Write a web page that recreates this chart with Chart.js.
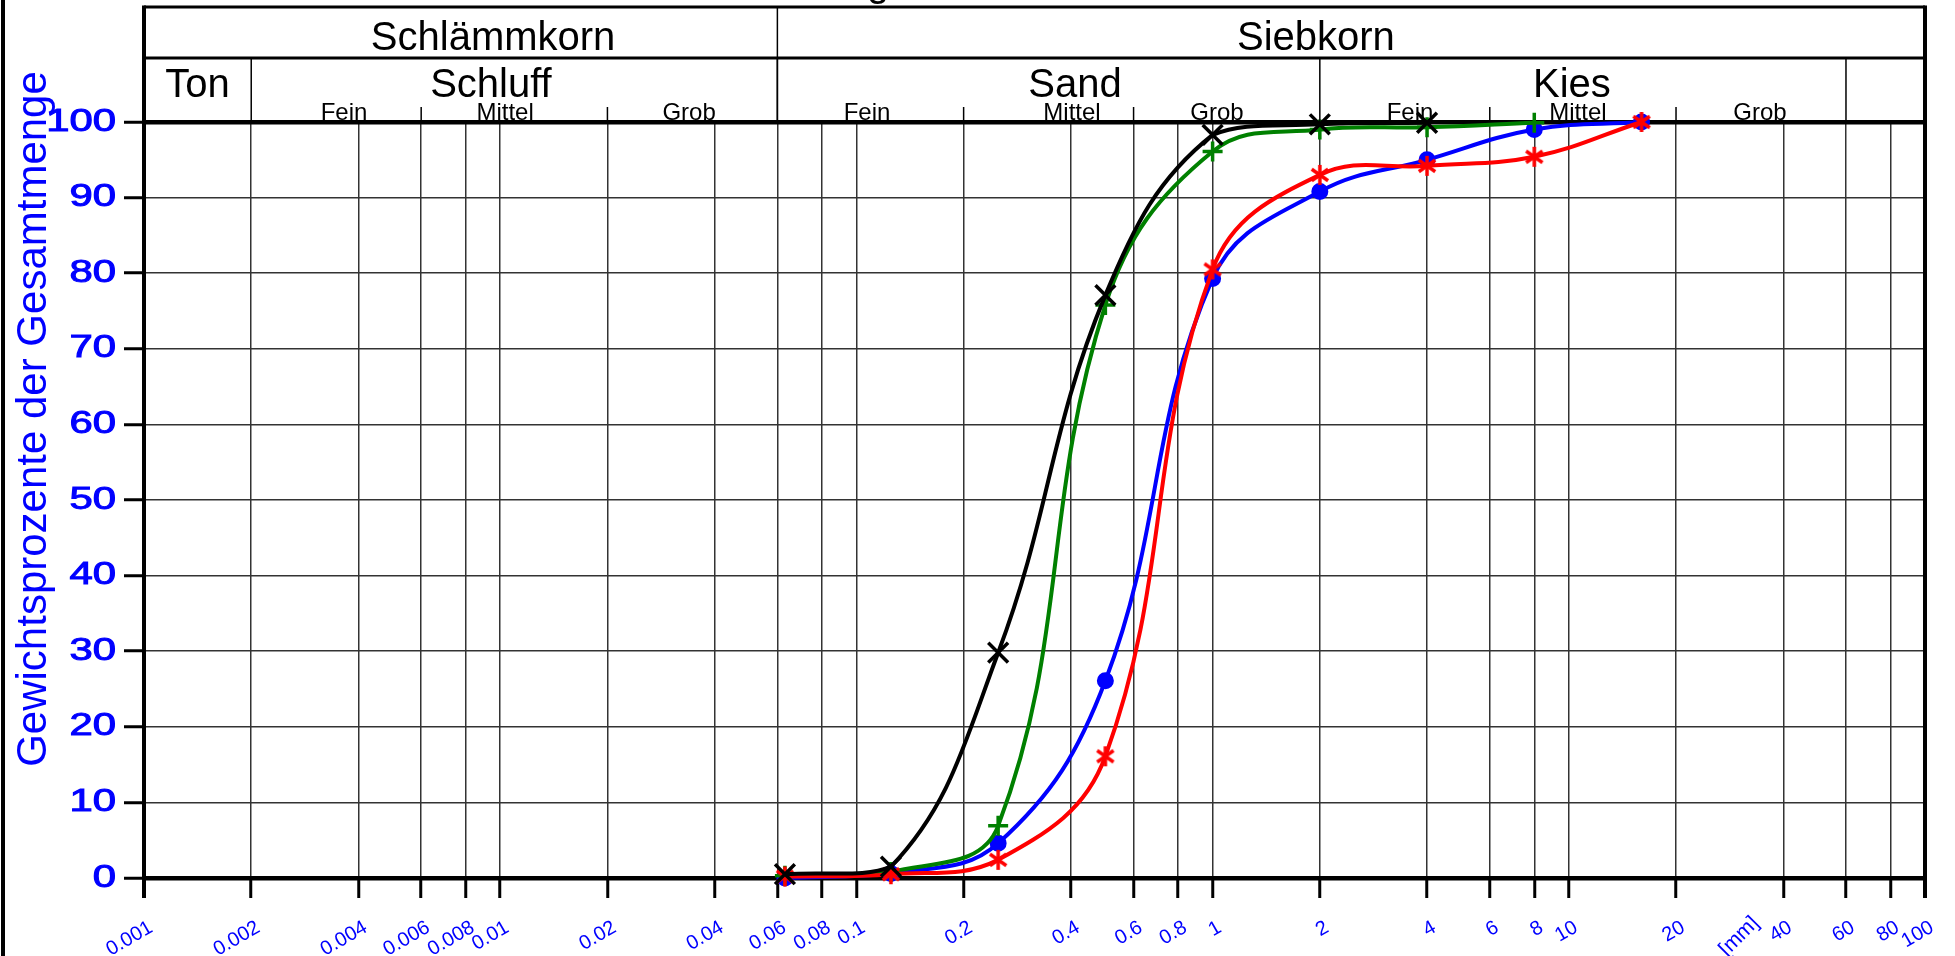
<!DOCTYPE html>
<html>
<head>
<meta charset="utf-8">
<title>Körnungslinie</title>
<script src="https://cdn.jsdelivr.net/npm/chart.js@4.4.1/dist/chart.umd.min.js"></script>
<style>
  html, body { margin: 0; padding: 0; background: #ffffff; overflow: hidden; }
  canvas { display: block; }
</style>
</head>
<body>
<canvas id="grading" width="1955" height="956"></canvas>
<script>
// Sieve openings (mm) and percent passing for each sample
const sieveSizes   = [0.063, 0.125, 0.25, 0.5, 1, 2, 4, 8, 16];
const passingBlue  = [0, 0.6, 4.6, 26.1, 79.3, 90.8, 95.0, 99.0, 100];
const passingRed   = [0.2, 0.5, 2.4, 16.1, 80.5, 93.0, 94.2, 95.4, 100];
const passingGreen = [0.3, 0.8, 6.9, 75.8, 96.1, 99.0, 99.3, 99.9];
const passingBlack = [0.5, 1.5, 29.8, 77.1, 98.3, 99.7, 99.9];

// Axis ticks
const xTickValues = [0.001, 0.002, 0.004, 0.006, 0.008, 0.01, 0.02, 0.04, 0.06, 0.08, 0.1,
                     0.2, 0.4, 0.6, 0.8, 1, 2, 4, 6, 8, 10, 20, 30, 40, 60, 80, 100];
const xTickLabels = ['0.001', '0.002', '0.004', '0.006', '0.008', '0.01', '0.02', '0.04', '0.06', '0.08', '0.1',
                     '0.2', '0.4', '0.6', '0.8', '1', '2', '4', '6', '8', '10', '20', '[mm]', '40', '60', '80', '100'];
const unitTickValue = 30;
const yTickValues = [0, 10, 20, 30, 40, 50, 60, 70, 80, 90, 100];
const yTickLabels = ['0', '10', '20', '30', '40', '50', '60', '70', '80', '90', '100'];
const yAxisTitle = 'Gewichtsprozente der Gesamtmenge';
const chartTitle = 'Körnungslinie';

// Soil fraction classification (DIN), boundaries in mm
const mainNames      = ['Schlämmkorn', 'Siebkorn'];
const mainBounds     = [0.06];
const fractionNames  = ['Ton', 'Schluff', 'Sand', 'Kies'];
const fractionBounds = [0.002, 0.06, 2, 60];
const subNames       = ['Fein', 'Mittel', 'Grob', 'Fein', 'Mittel', 'Grob', 'Fein', 'Mittel', 'Grob'];
const subBounds      = [0.006, 0.02, 0.2, 0.6, 6, 20];

// Where each header caption is centred (mm on the grain-size axis)
const mainLabelAt     = [0.00955, 1.95];
const fractionLabelAt = [0.001413, 0.00942, 0.411, 10.2];
const subLabelAt      = [0.003643, 0.01032, 0.0339, 0.1071, 0.403, 1.029, 3.583, 10.61, 34.4];

const FONT = '"Liberation Sans", Arial, Helvetica, sans-serif';
const AXIS_BLUE = '#0000ff';

function series(values) {
  return values.map((v, i) => ({ x: sieveSizes[i], y: v }));
}

// six-armed asterisk marker
function asteriskMarker(color, r, lw) {
  const size = Math.ceil(2 * r + lw + 2);
  const c = document.createElement('canvas');
  c.width = size; c.height = size;
  const g = c.getContext('2d');
  g.strokeStyle = color;
  g.lineWidth = lw;
  g.translate(size / 2, size / 2);
  [90, 35, 145].forEach(deg => {
    const a = deg * Math.PI / 180;
    g.beginPath();
    g.moveTo(-r * Math.cos(a), -r * Math.sin(a));
    g.lineTo(r * Math.cos(a), r * Math.sin(a));
    g.stroke();
  });
  return c;
}

function strokeLine(ctx, x1, y1, x2, y2, w) {
  ctx.lineWidth = w;
  ctx.beginPath();
  ctx.moveTo(x1, y1);
  ctx.lineTo(x2, y2);
  ctx.stroke();
}

// Header table, page border, axis labels and titles
const gradingFrame = {
  id: 'gradingFrame',
  afterDraw(chart) {
    const { ctx, chartArea: a } = chart;
    const xs = chart.scales.x, ys = chart.scales.y;
    const X = v => xs.getPixelForValue(v);
    const topY = 7, midY = 58, subTickTop = 107;
    const tickBottom = a.bottom + 20;

    ctx.save();
    ctx.strokeStyle = '#000';
    ctx.lineCap = 'butt';

    // page border on the left
    strokeLine(ctx, 3, 0, 3, chart.height, 4);

    // header box
    strokeLine(ctx, a.left, topY, a.right, topY, 3);
    strokeLine(ctx, a.left, midY, a.right, midY, 3);
    strokeLine(ctx, a.left, topY - 1.5, a.left, tickBottom, 4);
    strokeLine(ctx, a.right, topY - 1.5, a.right, tickBottom, 4);

    mainBounds.forEach(v => strokeLine(ctx, X(v), topY, X(v), a.top, 1.5));
    fractionBounds.forEach(v => strokeLine(ctx, X(v), midY, X(v), a.top, 1.5));
    subBounds.forEach(v => strokeLine(ctx, X(v), subTickTop, X(v), a.top, 1.5));

    // header captions
    ctx.fillStyle = '#000';
    ctx.textAlign = 'center';
    ctx.textBaseline = 'alphabetic';
    ctx.font = '40px ' + FONT;
    mainNames.forEach((t, i) => ctx.fillText(t, X(mainLabelAt[i]), 50));
    fractionNames.forEach((t, i) => ctx.fillText(t, X(fractionLabelAt[i]), 97));
    ctx.font = '24px ' + FONT;
    subNames.forEach((t, i) => ctx.fillText(t, X(subLabelAt[i]), 120));

    // chart title (runs off the top edge)
    ctx.font = '40px ' + FONT;
    ctx.textAlign = 'left';
    ctx.fillText(chartTitle, 738, -4);

    // y tick labels (wide, heavy digits)
    ctx.fillStyle = AXIS_BLUE;
    ctx.strokeStyle = AXIS_BLUE;
    ctx.lineWidth = 1;
    ctx.font = '31px ' + FONT;
    ctx.textBaseline = 'middle';
    yTickValues.forEach((v, i) => {
      ctx.save();
      ctx.translate(116, ys.getPixelForValue(v));
      ctx.scale(1.35, 1);
      ctx.textAlign = 'right';
      ctx.fillText(yTickLabels[i], 0, 0);
      ctx.strokeText(yTickLabels[i], 0, 0);
      ctx.restore();
    });

    // x tick labels, rotated
    ctx.textBaseline = 'alphabetic';
    ctx.textAlign = 'right';
    xTickValues.forEach((v, i) => {
      const px = X(v);
      ctx.save();
      if (v === unitTickValue) {
        ctx.font = '21px ' + FONT;
        ctx.translate(px + 21, a.bottom + 46);
        ctx.rotate(-Math.PI / 4);
      } else {
        ctx.font = '20px ' + FONT;
        ctx.translate(px + 10, a.bottom + 53);
        ctx.rotate(-Math.PI / 6);
      }
      ctx.fillText(xTickLabels[i], 0, 0);
      ctx.restore();
    });

    // y axis title
    ctx.save();
    ctx.font = '42px ' + FONT;
    ctx.textAlign = 'center';
    ctx.textBaseline = 'alphabetic';
    ctx.translate(46, 419);
    ctx.rotate(-Math.PI / 2);
    ctx.fillText(yAxisTitle, 0, 0);
    ctx.restore();

    ctx.restore();
  }
};

const lineDefaults = {
  borderWidth: 4,
  tension: 0.4,
  fill: false,
  clip: false,
  pointBorderWidth: 3.5
};

new Chart(document.getElementById('grading'), {
  type: 'line',
  data: {
    datasets: [
      Object.assign({}, lineDefaults, {
        label: 'Probe 4',
        data: series(passingBlack),
        borderColor: '#000000',
        pointStyle: 'crossRot',
        pointRadius: 14,
        pointBorderColor: '#000000',
        pointBackgroundColor: '#000000'
      }),
      Object.assign({}, lineDefaults, {
        label: 'Probe 2',
        data: series(passingRed),
        borderColor: '#ff0000',
        pointStyle: asteriskMarker('#ff0000', 10, 3.5),
        pointRadius: 10
      }),
      Object.assign({}, lineDefaults, {
        label: 'Probe 3',
        data: series(passingGreen),
        borderColor: '#008000',
        pointStyle: 'cross',
        pointRadius: 10,
        pointBorderColor: '#008000',
        pointBackgroundColor: '#008000'
      }),
      Object.assign({}, lineDefaults, {
        label: 'Probe 1',
        data: series(passingBlue),
        borderColor: '#0000ff',
        pointStyle: 'circle',
        pointRadius: 7.5,
        pointBorderWidth: 2,
        pointBorderColor: '#0000ff',
        pointBackgroundColor: '#0000ff'
      })
    ]
  },
  options: {
    responsive: false,
    devicePixelRatio: 1,
    animation: false,
    events: [],
    layout: { padding: { left: 0, right: 30, top: 122, bottom: 0 } },
    plugins: {
      legend: { display: false },
      tooltip: { enabled: false },
      title: { display: false }
    },
    scales: {
      x: {
        type: 'logarithmic',
        min: 0.001,
        max: 100,
        afterBuildTicks(scale) { scale.ticks = xTickValues.map(v => ({ value: v })); },
        afterFit(scale) { scale.height = 78; },
        ticks: { display: false },
        border: { display: false },
        grid: {
          drawTicks: true,
          tickLength: 20,
          tickWidth: 3,
          lineWidth: 1.5,
          color: c => {
            const v = c.tick && c.tick.value;
            if (v === unitTickValue || v === 0.001 || v === 100) return 'rgba(0,0,0,0)';
            return '#333333';
          },
          tickColor: c => (c.tick && c.tick.value === unitTickValue) ? 'rgba(0,0,0,0)' : '#000'
        }
      },
      y: {
        type: 'linear',
        min: 0,
        max: 100,
        afterBuildTicks(scale) { scale.ticks = yTickValues.map(v => ({ value: v })); },
        afterFit(scale) { scale.width = 144; },
        ticks: { display: false },
        border: { display: false },
        grid: {
          drawTicks: true,
          tickLength: 20,
          tickWidth: 3,
          tickColor: '#000',
          lineWidth: c => {
            const v = c.tick && c.tick.value;
            return (v === 0 || v === 100) ? 4.5 : 1.5;
          },
          color: c => {
            const v = c.tick && c.tick.value;
            return (v === 0 || v === 100) ? '#000' : '#333333';
          }
        }
      }
    }
  },
  plugins: [gradingFrame]
});
</script>
</body>
</html>
